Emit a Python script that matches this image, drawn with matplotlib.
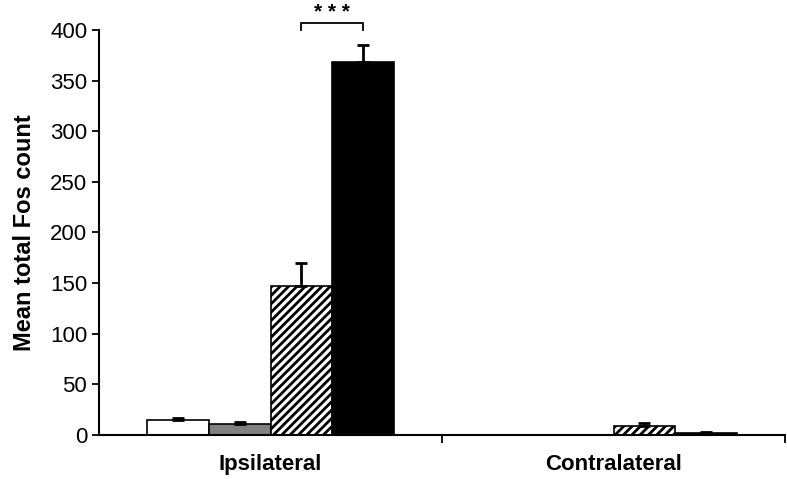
import numpy as np
import matplotlib.pyplot as plt

plt.rcParams['font.family'] = ['Liberation Sans', 'DejaVu Sans']
plt.rcParams['hatch.linewidth'] = 2.0

sides = ['Ipsilateral', 'Contralateral']
means = {
    'white': [15, 0],
    'grey': [11, 0],
    'hatched': [147, 9],
    'black': [368, 2],
}
errs = {
    'white': [1.5, 0],
    'grey': [2, 0],
    'hatched': [23, 3],
    'black': [17, 1],
}
offsets = [-0.27, -0.09, 0.09, 0.27]
faces = ['white', '#808080', 'white', 'black']
hatches = [None, None, '////', None]

fig = plt.figure(figsize=(7.87, 4.79), dpi=100)
ax = fig.add_axes([0.1258, 0.0919, 0.8717, 0.8455])
x = np.arange(len(sides))

for key, off, fc, h in zip(means, offsets, faces, hatches):
    m = np.array(means[key])
    e = np.array(errs[key])
    ax.bar(x + off, m, width=0.18, color=fc, edgecolor='black', linewidth=1.2, hatch=h, zorder=2)
    show = m > 0
    ax.errorbar((x + off)[show], m[show], yerr=[np.zeros(show.sum()), e[show]], fmt='none',
                ecolor='black', elinewidth=2, capsize=4, capthick=2, zorder=3)

# significance bracket
x1, x2 = x[0] + offsets[2], x[0] + offsets[3]
ax.plot([x1, x1, x2, x2], [400, 407, 407, 400], color='black', lw=1.3, clip_on=False)
ax.text((x1 + x2) / 2, 408, '* * *', ha='center', va='bottom', fontsize=15, fontweight='bold')

ax.set_xlim(-0.5, 1.5)
ax.set_ylim(0, 400)
ax.set_yticks(range(0, 401, 50))
ax.set_xticks(x)
ax.set_xticklabels(sides, fontsize=16, fontweight='bold')
ax.set_xticks([0.5, 1.5], minor=True)
ax.tick_params(axis='x', which='major', length=0, pad=14)
ax.tick_params(axis='x', which='minor', length=6, width=1.3, direction='out')
ax.tick_params(axis='y', labelsize=16, length=5, width=1.3, direction='out')
ax.set_ylabel('Mean total Fos count', fontsize=17, fontweight='bold', labelpad=10)
for s in ['top', 'right']:
    ax.spines[s].set_visible(False)
for s in ['left', 'bottom']:
    ax.spines[s].set_linewidth(1.5)

fig.savefig('out.png', dpi=100)
